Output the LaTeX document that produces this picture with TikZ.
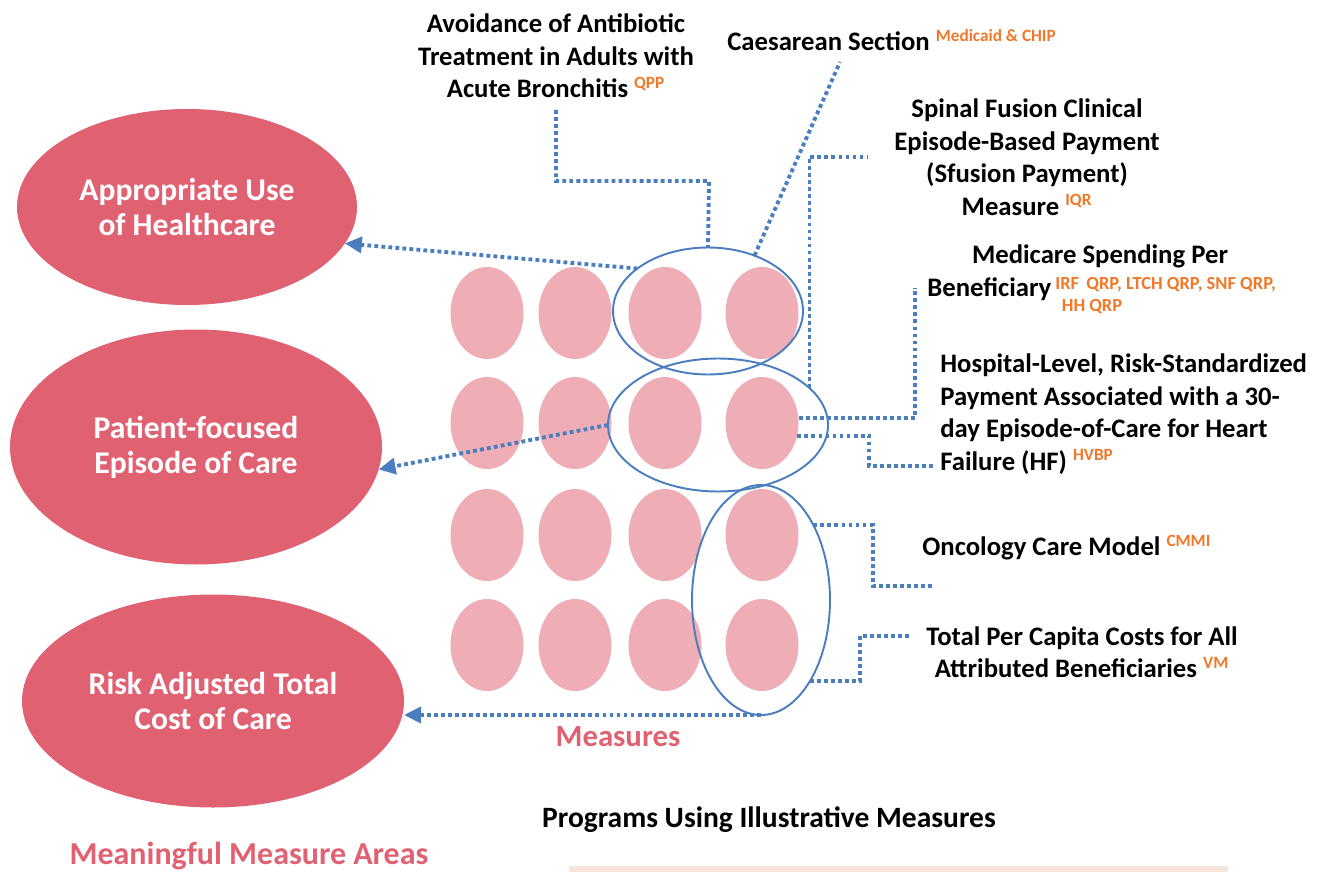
\documentclass[tikz,border=0pt]{standalone}
\usepackage{fontspec}
\setmainfont{Carlito}
\usetikzlibrary{shapes.geometric, arrows.meta, positioning}
\definecolor{areapink}{HTML}{E06272}
\definecolor{measpink}{HTML}{EFAEB5}
\definecolor{linkblue}{HTML}{4A7EBF}
\definecolor{progorange}{HTML}{F07828}
\definecolor{stripbeige}{HTML}{F8E6DE}
\newcommand{\prog}[1]{\textsuperscript{\color{progorange}\fontsize{9.8}{11}\selectfont #1}}
\tikzset{
        x=0.2mm, y=-0.2mm, % one unit is one pixel of the sketch
        link/.style={draw=linkblue, line width=2.2pt, dash pattern=on 2.2pt off 1.8pt}, % dotted connectors
        linkarrow/.style={link, -{Triangle[length=3.4mm,width=3.2mm]}},
    }
\tikzstyle{area}=[ellipse,fill=areapink,text=white,font=\bfseries\fontsize{18}{20}\selectfont,align=center,inner sep=0pt,outer sep=0pt]
\tikzstyle{measure}=[ellipse,fill=measpink,minimum width=14.6mm,minimum height=18.4mm,inner sep=0pt]
\tikzstyle{group}=[ellipse,draw=linkblue,line width=1.1pt,inner sep=0pt,outer sep=0pt]
\tikzstyle{label}=[font=\bfseries\fontsize{15.2}{18.5}\selectfont,inner sep=0pt]
\tikzstyle{title}=[font=\bfseries\fontsize{17.5}{20}\selectfont,inner sep=0pt]
\begin{document}
\begin{tikzpicture}
    \useasboundingbox (0,0) rectangle (1317,872);
    \fill[stripbeige] (569,866) rectangle (1228,872);

    % measure areas
    \node[area, minimum width=68mm, minimum height=39.2mm] (areaUse) at (187,207)
        {Appropriate Use\\of Healthcare};
    \node[area, minimum width=74.4mm, minimum height=47mm] (areaEpisode) at (196,447)
        {Patient-focused\\Episode of Care};
    \node[area, minimum width=76.4mm, minimum height=42.6mm] (areaCost) at (213,701)
        {Risk Adjusted Total\\Cost of Care};

    % grid of measures
    \foreach \r/\y in {1/313,2/423,3/535,4/645}
        \foreach \c/\x in {1/487,2/575,3/665,4/762}
            \node[measure] (m\r\c) at (\x,\y) {};

    \node[group, minimum width=38mm, minimum height=25.4mm] (gA) at (708,311) {};
    \node[group, minimum width=44mm, minimum height=26.6mm] (gB) at (718,425) {};
    \node[group, minimum width=27.6mm, minimum height=46mm] (gC) at (761,600) {};

    % measures and their programs
    \node[label, align=center] (tAvoid) at (556,56)
        {Avoidance of Antibiotic\\Treatment in Adults with\\Acute Bronchitis \prog{QPP}};
    \node[label, anchor=west] (tCaes) at (727,40)
        {Caesarean Section \prog{Medicaid \& CHIP}};
    \node[label, align=center] (tSpinal) at (1027,157)
        {Spinal Fusion Clinical\\Episode-Based Payment\\(Sfusion Payment)\\Measure \prog{IQR}};
    \node[label] (tMspb) at (1100,256) {Medicare Spending Per};
    \node[label, anchor=west] (tMspbB) at (927,289) {Beneficiary};
    \node[font=\bfseries\fontsize{10.5}{12.5}\selectfont, text=progorange, align=left,
        anchor=north west, inner sep=0pt] (tMspbProg) at (1055,277)
        {IRF \,QRP, LTCH QRP, SNF QRP,\\\hspace{1.3mm}HH QRP};
    \node[label, align=left, anchor=west] (tHosp) at (940,414)
        {Hospital-Level, Risk-Standardized\\Payment Associated with a 30-\\day Episode-of-Care for Heart\\Failure (HF) \prog{HVBP}};
    \node[label, anchor=west] (tOnc) at (922,548) {Oncology Care Model \prog{CMMI}};
    \node[label, align=center] (tTpcc) at (1082,652)
        {Total Per Capita Costs for All\\Attributed Beneficiaries \prog{VM}};

    \node[title, text=areapink] (tMeasures) at (618,737) {Measures};
    \node[title, font=\bfseries\fontsize{16.8}{20}\selectfont] (tPrograms) at (769,820)
        {Programs Using Illustrative Measures};
    \node[title, font=\bfseries\fontsize{18.2}{20}\selectfont, text=areapink] (tAreas) at (249,856)
        {Meaningful Measure Areas};

    % connectors
    \coordinate (cAvoid) at (556,110);
    \coordinate (cCaes) at (840,62);
    \coordinate (cSpinal) at (867,157);
    \coordinate (cMspb) at (915,288);
    \coordinate (cHosp) at (934,466);
    \coordinate (cOnc) at (934,586);
    \coordinate (cTpcc) at (910,636);

    \draw[link] (cAvoid) |- (709,181) -- (gA.north);
    \draw[link] (gA.50) -- (cCaes);
    \draw[link] (gB.22) |- (cSpinal);
    \draw[link] (m24.8) -| (cMspb);
    \draw[link] (m24.-20) -| (869,466) -- (cHosp);
    \draw[link] (gC.55) -| (873,586) -- (cOnc);
    \draw[link] (gC.-59) -| (860,636) -- (cTpcc);

    \draw[linkarrow] (gA.149) -- (areaUse.-13);
    \draw[linkarrow] (gB.west) -- (areaEpisode.-7);
    \draw[linkarrow] (gC.south) -- (gC.south -| areaCost.east);
\end{tikzpicture}
\end{document}
